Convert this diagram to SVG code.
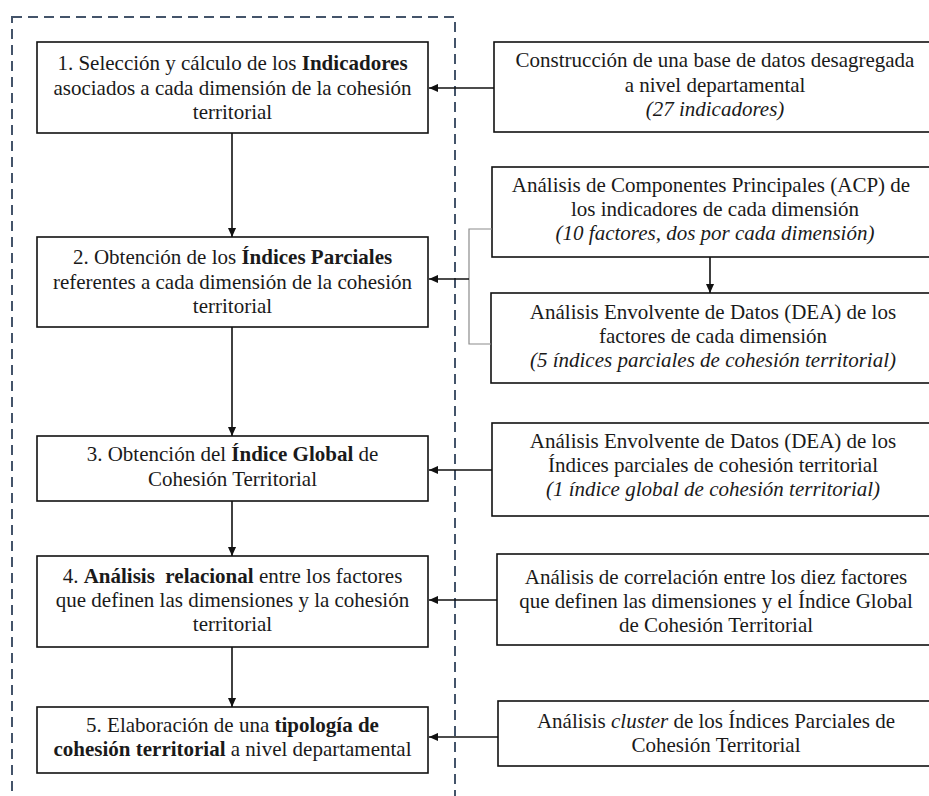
<svg xmlns="http://www.w3.org/2000/svg" width="929" height="796" viewBox="0 0 929 796">
<style>
.box{fill:#fff;stroke:#111;stroke-width:1.6}
.t{font-family:'Liberation Serif','Times New Roman',Tinos,'DejaVu Serif',serif;font-size:21px;fill:#1a1a1a;text-anchor:middle}
.b{font-weight:bold}
.i{font-style:italic}
.c{stroke:#111;stroke-width:1.6;fill:none}
.g{stroke:#8c8c8c;stroke-width:1.2;fill:none}
.frame{fill:none;stroke:#44546a;stroke-width:2;stroke-dasharray:10 6}
</style>
<defs>
<marker id="ah" viewBox="0 0 10 10" refX="10" refY="5" markerWidth="9" markerHeight="9" markerUnits="userSpaceOnUse" orient="auto">
<path d="M0,0.5 L10,5 L0,9.5 z" fill="#111"/>
</marker>
</defs>
<rect width="929" height="796" fill="#fff"/>
<rect class="frame" x="12" y="17" width="443" height="800"/>

<g font-family="Liberation Serif, serif">
<g id="n1">
<rect class="box" x="37" y="42" width="391" height="91"/>
<text class="t" x="232.5" y="70">1. Selección y cálculo de los <tspan class="b">Indicadores</tspan></text>
<text class="t" x="232.5" y="95">asociados a cada dimensión de la cohesión</text>
<text class="t" x="232.5" y="119">territorial</text>
</g>
<g id="n2">
<rect class="box" x="37" y="237" width="391" height="90"/>
<text class="t" x="232.5" y="264">2. Obtención de los <tspan class="b">Índices Parciales</tspan></text>
<text class="t" x="232.5" y="289">referentes a cada dimensión de la cohesión</text>
<text class="t" x="232.5" y="313">territorial</text>
</g>
<g id="n3">
<rect class="box" x="37" y="436" width="391" height="65"/>
<text class="t" x="232.5" y="461">3. Obtención del <tspan class="b">Índice Global</tspan> de</text>
<text class="t" x="232.5" y="486">Cohesión Territorial</text>
</g>
<g id="n4">
<rect class="box" x="37" y="556" width="391" height="91"/>
<text class="t" x="232.5" y="583">4. <tspan class="b">Análisis&#160; relacional</tspan> entre los factores</text>
<text class="t" x="232.5" y="607">que definen las dimensiones y la cohesión</text>
<text class="t" x="232.5" y="631">territorial</text>
</g>
<g id="n5">
<rect class="box" x="37" y="707" width="391" height="66"/>
<text class="t" x="232.5" y="732">5. Elaboración de una <tspan class="b">tipología de</tspan></text>
<text class="t" x="232.5" y="756"><tspan class="b">cohesión territorial</tspan> a nivel departamental</text>
</g>

<g id="r1">
<rect class="box" x="494" y="42" width="442" height="90"/>
<text class="t" x="715" y="67">Construcción de una base de datos desagregada</text>
<text class="t" x="715" y="92">a nivel departamental</text>
<text class="t i" x="715" y="116">(27 indicadores)</text>
</g>
<g id="r2">
<rect class="box" x="492" y="167" width="444" height="90"/>
<text class="t" x="711" y="192">Análisis de Componentes Principales (ACP) de</text>
<text class="t" x="715" y="216">los indicadores de cada dimensión</text>
<text class="t i" x="715" y="240">(10 factores, dos por cada dimensión)</text>
</g>
<g id="r3">
<rect class="box" x="491" y="293" width="445" height="90"/>
<text class="t" x="713" y="319">Análisis Envolvente de Datos (DEA) de los</text>
<text class="t" x="713" y="343">factores de cada dimensión</text>
<text class="t i" x="713" y="367">(5 índices parciales de cohesión territorial)</text>
</g>
<g id="r4">
<rect class="box" x="492" y="423" width="444" height="93"/>
<text class="t" x="713" y="448">Análisis Envolvente de Datos (DEA) de los</text>
<text class="t" x="713" y="472">Índices parciales de cohesión territorial</text>
<text class="t i" x="713" y="496">(1 índice global de cohesión territorial)</text>
</g>
<g id="r5">
<rect class="box" x="497" y="554" width="439" height="91"/>
<text class="t" x="716" y="584">Análisis de correlación entre los diez factores</text>
<text class="t" x="716" y="608">que definen las dimensiones y el Índice Global</text>
<text class="t" x="716" y="632">de Cohesión Territorial</text>
</g>
<g id="r6">
<rect class="box" x="498" y="701" width="438" height="65"/>
<text class="t" x="716" y="728">Análisis <tspan class="i">cluster</tspan> de los Índices Parciales de</text>
<text class="t" x="716" y="752">Cohesión Territorial</text>
</g>
</g>

<g id="connectors">
<line class="c" x1="232" y1="133" x2="232" y2="237" marker-end="url(#ah)"/>
<line class="c" x1="232" y1="327" x2="232" y2="436" marker-end="url(#ah)"/>
<line class="c" x1="232" y1="501" x2="232" y2="556" marker-end="url(#ah)"/>
<line class="c" x1="232" y1="647" x2="232" y2="707" marker-end="url(#ah)"/>
<line class="c" x1="710" y1="257" x2="710" y2="293" marker-end="url(#ah)"/>
<line class="c" x1="494" y1="88" x2="429" y2="88" marker-end="url(#ah)"/>
<polyline class="g" points="492,229 469,229 469,344 491,344"/>
<line class="c" x1="469" y1="279" x2="429" y2="279" marker-end="url(#ah)"/>
<line class="c" x1="492" y1="470" x2="429" y2="470" marker-end="url(#ah)"/>
<line class="c" x1="497" y1="600" x2="429" y2="600" marker-end="url(#ah)"/>
<line class="c" x1="498" y1="737" x2="429" y2="737" marker-end="url(#ah)"/>
</g>
</svg>
